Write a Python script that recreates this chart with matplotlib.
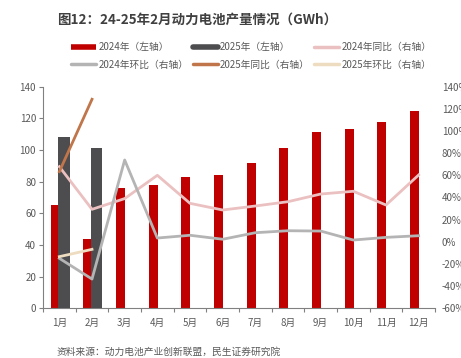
import matplotlib
matplotlib.use('Agg')
import matplotlib.pyplot as plt
import numpy as np
from matplotlib.ticker import FixedLocator, FuncFormatter
from matplotlib.lines import Line2D

plt.rcParams['font.family'] = ['Noto Sans CJK SC', 'DejaVu Sans']

# data
months = ['1月', '2月', '3月', '4月', '5月', '6月', '7月', '8月', '9月', '10月', '11月', '12月']
prod_2024 = [65.1, 43.6, 75.8, 78.1, 82.7, 84.4, 92.0, 101.3, 111.4, 113.0, 117.7, 124.6]
prod_2025 = [108.4, 101.1]
yoy_2024 = [67.8, 29.3, 39.0, 60.0, 34.7, 28.7, 32.3, 36.2, 43.1, 45.6, 33.2, 60.3]
mom_2024 = [-14.9, -33.6, 73.8, 3.4, 5.9, 2.3, 8.2, 10.0, 9.7, 1.6, 4.0, 5.5]
yoy_2025 = [63.3, 128.6]
mom_2025 = [-13.4, -6.8]

txt = '#595959'
fig = plt.figure(figsize=(4.61, 3.58), dpi=100)
ax = fig.add_axes([0.0933, 0.1388, 0.8503, 0.6192])
ax2 = ax.twinx()

x = np.arange(len(months))
ax.bar(x - 0.13, prod_2024, width=0.28, color='#C00000', zorder=2)
ax.bar(x[:2] + 0.14, prod_2025, width=0.36, color='#4D4D4F', zorder=3)

lw = 2.0
ax2.plot(x, yoy_2024, color='#EBC0C0', lw=lw, zorder=4)
ax2.plot(x, mom_2024, color='#B4B4B4', lw=lw, zorder=4)
ax2.plot(x[:2], yoy_2025, color='#C0764A', lw=lw, zorder=5)
ax2.plot(x[:2], mom_2025, color='#EEDCC0', lw=lw, zorder=5)

ax.set_xlim(-0.5, len(months) - 0.5)
ax.set_ylim(0, 140)
ax.set_yticks(range(0, 141, 20))
ax2.set_ylim(-60, 140)
ax2.set_yticks(range(-60, 141, 20))
ax2.yaxis.set_major_formatter(FuncFormatter(lambda v, p: f'{int(v)}%'))

ax.set_xticks(x)
ax.set_xticklabels(months)
ax.xaxis.set_minor_locator(FixedLocator(np.arange(-0.5, len(months), 1)))
ax.tick_params(axis='x', which='major', length=0, pad=7, labelsize=7, colors=txt)
ax.tick_params(axis='x', which='minor', length=3, color='#808080', width=0.8)
ax.tick_params(axis='y', length=3, color='#808080', width=0.8, labelsize=7, pad=2)
ax.tick_params(axis='y', labelcolor=txt)
ax2.tick_params(axis='y', length=0, labelsize=7, colors=txt, pad=5)

for a in (ax, ax2):
    for s in ('top', 'right'):
        a.spines[s].set_visible(False)
ax2.spines['left'].set_visible(False)
ax2.spines['bottom'].set_visible(False)
for s in ('left', 'bottom'):
    ax.spines[s].set_color('#808080')
    ax.spines[s].set_linewidth(0.8)

fig.text(0.123, 0.944, '图12：24-25年2月动力电池产量情况（GWh）', fontsize=9.7, fontweight='bold',
         color='#404040', va='center', ha='left')

handles = [
    Line2D([], [], color='#C00000', lw=4, solid_capstyle='butt'),
    Line2D([], [], color='#4D4D4F', lw=4, solid_capstyle='round'),
    Line2D([], [], color='#EBC0C0', lw=2.5, solid_capstyle='round'),
    Line2D([], [], color='#B4B4B4', lw=2.5, solid_capstyle='round'),
    Line2D([], [], color='#C0764A', lw=2.5, solid_capstyle='round'),
    Line2D([], [], color='#EEDCC0', lw=2.5, solid_capstyle='round'),
]
labels = ['2024年（左轴）', '2025年（左轴）', '2024年同比（右轴）',
          '2024年环比（右轴）', '2025年同比（右轴）', '2025年环比（右轴）']
order = [0, 3, 1, 4, 2, 5]
leg = fig.legend([handles[i] for i in order], [labels[i] for i in order], ncol=3,
                 loc='upper left', bbox_to_anchor=(0.154, 0.882), frameon=False,
                 fontsize=7, handlelength=2.6, handletextpad=0.2, columnspacing=0.45,
                 labelspacing=0.75, borderpad=0, borderaxespad=0)
for t in leg.get_texts():
    t.set_color(txt)

fig.text(0.123, 0.018, '资料来源：动力电池产业创新联盟，民生证券研究院', fontsize=7, color=txt,
         va='center', ha='left')

fig.savefig('out.png', dpi=100)
